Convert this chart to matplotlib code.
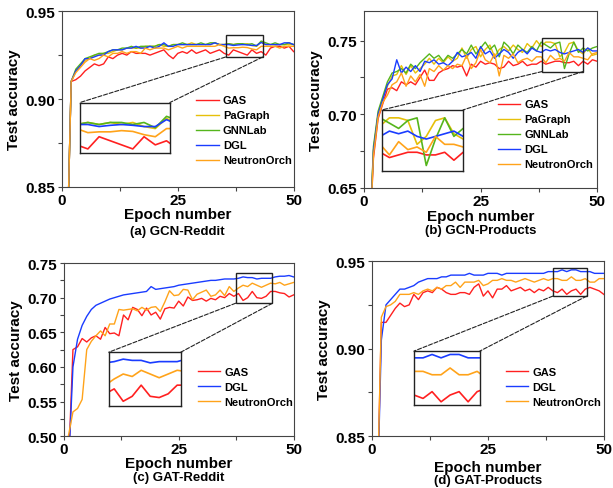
import matplotlib
matplotlib.use("Agg")
import matplotlib.pyplot as plt
from matplotlib.patches import Rectangle, ConnectionPatch

plt.rcParams['font.family'] = ['Liberation Sans', 'DejaVu Sans']
plt.rcParams['font.weight'] = 'bold'

epochs = list(range(1, 51))

# colours of the systems
colors = {'GAS': '#ff2020', 'PaGraph': '#e6c00a', 'GNNLab': '#55b51c',
          'DGL': '#1a3cff', 'NeutronOrch': '#ffa31a'}

# (a) GCN-Reddit
gas_a = [0.800, 0.910, 0.911, 0.913, 0.916, 0.918, 0.920, 0.919, 0.920, 0.924,
         0.923, 0.925, 0.926, 0.925, 0.927, 0.926, 0.926, 0.926, 0.925, 0.926,
         0.927, 0.928, 0.925, 0.923, 0.926, 0.927, 0.926, 0.928, 0.926, 0.927,
         0.928, 0.926, 0.927, 0.928, 0.926, 0.925, 0.928, 0.927, 0.926, 0.925,
         0.928, 0.926, 0.927, 0.925, 0.929, 0.930, 0.930, 0.929, 0.930, 0.927]
pagraph_a = [0.800, 0.910, 0.916, 0.919, 0.922, 0.923, 0.925, 0.925, 0.926, 0.926,
             0.927, 0.928, 0.928, 0.929, 0.929, 0.929, 0.929, 0.930, 0.930, 0.930,
             0.931, 0.930, 0.930, 0.931, 0.931, 0.931, 0.931, 0.932, 0.931, 0.931,
             0.931, 0.931, 0.932, 0.931, 0.931, 0.9315, 0.931, 0.9315, 0.931, 0.9315,
             0.9305, 0.930, 0.9325, 0.931, 0.931, 0.931, 0.931, 0.931, 0.931, 0.931]
gnnlab_a = [0.800, 0.910, 0.917, 0.920, 0.923, 0.924, 0.925, 0.926, 0.926, 0.927,
            0.928, 0.928, 0.929, 0.929, 0.930, 0.929, 0.930, 0.930, 0.930, 0.930,
            0.931, 0.931, 0.930, 0.931, 0.931, 0.932, 0.931, 0.931, 0.931, 0.932,
            0.931, 0.932, 0.932, 0.931, 0.931, 0.9315, 0.931, 0.9315, 0.9315, 0.931,
            0.9315, 0.9302, 0.933, 0.932, 0.931, 0.932, 0.931, 0.931, 0.932, 0.931]
dgl_a = [0.800, 0.910, 0.916, 0.919, 0.923, 0.923, 0.924, 0.925, 0.925, 0.927,
         0.928, 0.928, 0.928, 0.929, 0.929, 0.930, 0.929, 0.929, 0.930, 0.929,
         0.930, 0.932, 0.930, 0.930, 0.931, 0.931, 0.931, 0.931, 0.931, 0.931,
         0.931, 0.931, 0.932, 0.931, 0.931, 0.931, 0.9305, 0.9308, 0.931, 0.9308,
         0.9305, 0.9305, 0.9322, 0.931, 0.931, 0.931, 0.931, 0.932, 0.932, 0.931]
neutron_a = [0.800, 0.910, 0.915, 0.918, 0.921, 0.923, 0.922, 0.923, 0.925, 0.924,
             0.926, 0.926, 0.927, 0.926, 0.927, 0.927, 0.926, 0.929, 0.928, 0.929,
             0.929, 0.929, 0.928, 0.929, 0.930, 0.929, 0.930, 0.930, 0.930, 0.930,
             0.930, 0.930, 0.930, 0.931, 0.930, 0.929, 0.9292, 0.9292, 0.9295, 0.9293,
             0.9285, 0.928, 0.930, 0.930, 0.930, 0.930, 0.929, 0.930, 0.930, 0.930]

# (b) GCN-Products
gas_b = [0.600, 0.670, 0.697, 0.707, 0.717, 0.718, 0.716, 0.722, 0.720, 0.722,
         0.720, 0.725, 0.730, 0.723, 0.723, 0.728, 0.730, 0.731, 0.733, 0.732,
         0.733, 0.726, 0.734, 0.732, 0.736, 0.734, 0.735, 0.734, 0.731, 0.732,
         0.736, 0.733, 0.734, 0.736, 0.733, 0.734, 0.734, 0.736, 0.734, 0.735,
         0.736, 0.736, 0.735, 0.735, 0.736, 0.733, 0.736, 0.734, 0.737, 0.736]
pagraph_b = [0.600, 0.676, 0.700, 0.711, 0.719, 0.726, 0.727, 0.733, 0.727, 0.733,
             0.728, 0.731, 0.734, 0.738, 0.734, 0.738, 0.735, 0.739, 0.736, 0.738,
             0.745, 0.738, 0.744, 0.746, 0.739, 0.744, 0.747, 0.739, 0.744, 0.746,
             0.743, 0.747, 0.744, 0.742, 0.748, 0.745, 0.750, 0.746, 0.749, 0.749,
             0.748, 0.739, 0.742, 0.748, 0.749, 0.743, 0.741, 0.745, 0.740, 0.741]
gnnlab_b = [0.600, 0.678, 0.702, 0.712, 0.722, 0.728, 0.729, 0.731, 0.728, 0.734,
            0.731, 0.735, 0.738, 0.741, 0.738, 0.740, 0.736, 0.740, 0.738, 0.741,
            0.744, 0.741, 0.747, 0.741, 0.745, 0.749, 0.744, 0.747, 0.739, 0.749,
            0.746, 0.741, 0.747, 0.744, 0.742, 0.746, 0.743, 0.749, 0.747, 0.745,
            0.748, 0.749, 0.731, 0.741, 0.749, 0.742, 0.745, 0.743, 0.745, 0.746]
dgl_b = [0.600, 0.675, 0.700, 0.710, 0.720, 0.724, 0.737, 0.728, 0.732, 0.729,
         0.733, 0.729, 0.736, 0.735, 0.737, 0.734, 0.735, 0.733, 0.736, 0.742,
         0.739, 0.740, 0.742, 0.738, 0.746, 0.741, 0.743, 0.738, 0.741, 0.744,
         0.742, 0.738, 0.742, 0.744, 0.741, 0.745, 0.743, 0.742, 0.744, 0.743,
         0.744, 0.742, 0.741, 0.742, 0.743, 0.744, 0.742, 0.745, 0.743, 0.743]
neutron_b = [0.600, 0.672, 0.698, 0.708, 0.713, 0.720, 0.722, 0.728, 0.719, 0.726,
             0.722, 0.727, 0.719, 0.731, 0.729, 0.733, 0.730, 0.733, 0.731, 0.734,
             0.733, 0.740, 0.731, 0.735, 0.744, 0.737, 0.735, 0.741, 0.726, 0.740,
             0.738, 0.741, 0.735, 0.737, 0.738, 0.736, 0.739, 0.739, 0.735, 0.740,
             0.737, 0.738, 0.736, 0.742, 0.739, 0.739, 0.738, 0.737, 0.741, 0.742]

# (c) GAT-Reddit
gas_c = [0.450, 0.625, 0.629, 0.641, 0.636, 0.642, 0.645, 0.640, 0.657, 0.648,
         0.649, 0.645, 0.675, 0.668, 0.686, 0.683, 0.674, 0.685, 0.675, 0.679,
         0.669, 0.684, 0.686, 0.685, 0.695, 0.688, 0.701, 0.696, 0.697, 0.699,
         0.695, 0.699, 0.697, 0.702, 0.700, 0.706, 0.702, 0.706, 0.696, 0.700,
         0.709, 0.700, 0.699, 0.702, 0.709, 0.709, 0.707, 0.706, 0.701, 0.704]
dgl_c = [0.450, 0.600, 0.640, 0.660, 0.673, 0.683, 0.689, 0.692, 0.695, 0.698,
         0.700, 0.702, 0.704, 0.705, 0.706, 0.707, 0.708, 0.709, 0.716, 0.712,
         0.713, 0.714, 0.715, 0.716, 0.718, 0.719, 0.720, 0.721, 0.722, 0.723,
         0.724, 0.725, 0.725, 0.726, 0.727, 0.727, 0.727, 0.728, 0.730, 0.729,
         0.729, 0.727, 0.728, 0.728, 0.728, 0.730, 0.731, 0.731, 0.732, 0.730]
neutron_c = [0.500, 0.535, 0.540, 0.553, 0.625, 0.637, 0.645, 0.652, 0.645, 0.662,
             0.662, 0.683, 0.682, 0.683, 0.684, 0.681, 0.686, 0.682, 0.686, 0.687,
             0.680, 0.694, 0.710, 0.703, 0.704, 0.712, 0.711, 0.697, 0.705, 0.708,
             0.711, 0.702, 0.704, 0.711, 0.703, 0.716, 0.709, 0.714, 0.718, 0.716,
             0.721, 0.718, 0.715, 0.718, 0.721, 0.720, 0.722, 0.718, 0.720, 0.722]

# (d) GAT-Products
gas_d = [0.800, 0.915, 0.915, 0.919, 0.923, 0.926, 0.924, 0.925, 0.931, 0.928,
         0.932, 0.933, 0.932, 0.935, 0.934, 0.932, 0.931, 0.931, 0.932, 0.932,
         0.931, 0.935, 0.937, 0.930, 0.933, 0.929, 0.934, 0.934, 0.936, 0.933,
         0.934, 0.935, 0.933, 0.934, 0.932, 0.934, 0.933, 0.935, 0.933, 0.932,
         0.934, 0.931, 0.933, 0.934, 0.931, 0.934, 0.935, 0.934, 0.933, 0.931]
dgl_d = [0.800, 0.905, 0.925, 0.928, 0.931, 0.934, 0.934, 0.935, 0.936, 0.938,
         0.939, 0.940, 0.940, 0.940, 0.941, 0.941, 0.942, 0.942, 0.942, 0.942,
         0.943, 0.942, 0.942, 0.942, 0.943, 0.943, 0.943, 0.942, 0.943, 0.943,
         0.943, 0.943, 0.943, 0.943, 0.943, 0.943, 0.943, 0.944, 0.944, 0.944,
         0.945, 0.944, 0.945, 0.945, 0.944, 0.944, 0.944, 0.943, 0.943, 0.943]
neutron_d = [0.800, 0.918, 0.924, 0.925, 0.927, 0.931, 0.931, 0.931, 0.932, 0.931,
             0.933, 0.934, 0.933, 0.935, 0.934, 0.936, 0.936, 0.938, 0.935, 0.938,
             0.938, 0.938, 0.939, 0.936, 0.937, 0.939, 0.939, 0.940, 0.939, 0.939,
             0.938, 0.939, 0.940, 0.939, 0.938, 0.939, 0.940, 0.939, 0.940, 0.940,
             0.939, 0.939, 0.941, 0.939, 0.939, 0.940, 0.938, 0.938, 0.940, 0.940]

panels = [
    dict(pos=[0.101, 0.616, 0.378, 0.359],
         series=[('GAS', gas_a), ('PaGraph', pagraph_a), ('GNNLab', gnnlab_a),
                 ('DGL', dgl_a), ('NeutronOrch', neutron_a)],
         ylim=(0.85, 0.95), yticks=[0.85, 0.90, 0.95], yminor=[0.875, 0.925],
         zoom=(35.3, 43.3, 0.9239, 0.9364), inset=[0.078, 0.19, 0.388, 0.29],
         leg=(0.58, 0.52), caption='(a) GCN-Reddit', capy=(-0.157, -0.252)),
    dict(pos=[0.594, 0.614, 0.380, 0.361],
         series=[('GAS', gas_b), ('PaGraph', pagraph_b), ('GNNLab', gnnlab_b),
                 ('DGL', dgl_b), ('NeutronOrch', neutron_b)],
         ylim=(0.65, 0.77), yticks=[0.65, 0.70, 0.75], yminor=[0.675, 0.725],
         zoom=(38.2, 47.0, 0.729, 0.752), inset=[0.077, 0.096, 0.348, 0.345],
         leg=(0.575, 0.5), caption='(b) GCN-Products', capy=(-0.162, -0.238)),
    dict(pos=[0.104, 0.106, 0.375, 0.354],
         series=[('GAS', gas_c), ('DGL', dgl_c), ('NeutronOrch', neutron_c)],
         ylim=(0.50, 0.75), yticks=[0.50, 0.55, 0.60, 0.65, 0.70, 0.75],
         yminor=[0.525, 0.575, 0.625, 0.675, 0.725],
         zoom=(37.4, 45.4, 0.692, 0.7356), inset=[0.196, 0.173, 0.313, 0.312],
         leg=(0.583, 0.402), caption='(c) GAT-Reddit', capy=(-0.157, -0.234)),
    dict(pos=[0.607, 0.106, 0.378, 0.358],
         series=[('GAS', gas_d), ('DGL', dgl_d), ('NeutronOrch', neutron_d)],
         ylim=(0.85, 0.95), yticks=[0.85, 0.90, 0.95], yminor=[0.875, 0.925],
         zoom=(39.0, 46.3, 0.930, 0.946), inset=[0.181, 0.177, 0.284, 0.309],
         leg=(0.578, 0.397), caption='(d) GAT-Products', capy=(-0.174, -0.25)),
]

fig = plt.figure(figsize=(6.13, 4.89), dpi=100)

for p in panels:
    ax = fig.add_axes(p['pos'])
    lines = []
    for name, vals in p['series']:
        ln, = ax.plot(epochs, vals, color=colors[name], lw=1.0, label=name)
        lines.append(ln)
    ax.set_xlim(0, 50)
    ax.set_ylim(*p['ylim'])
    ax.set_xticks([0, 25, 50])
    ax.set_xticks([12.5, 37.5], minor=True)
    ax.set_yticks(p['yticks'])
    ax.set_yticks(p['yminor'], minor=True)
    ax.set_yticklabels(['%.2f' % v for v in p['yticks']])
    ax.tick_params(which='both', direction='out', length=3, width=0.8,
                   color='#444444', labelsize=11, pad=2)
    ax.tick_params(axis='x', pad=1.5)
    for s in ax.spines.values():
        s.set_color('#444444')
        s.set_linewidth(0.8)
    ax.set_ylabel('Test accuracy', fontsize=11, fontweight='bold', labelpad=3)
    ax.text(0.5, p['capy'][0], 'Epoch number', transform=ax.transAxes,
            ha='center', va='center', fontsize=11, fontweight='bold')
    ax.text(0.5, p['capy'][1], p['caption'], transform=ax.transAxes,
            ha='center', va='center', fontsize=9.5, fontweight='bold')

    ax.legend(handles=lines, loc='upper left', bbox_to_anchor=p['leg'],
              frameon=False, borderaxespad=0, borderpad=0, handlelength=2.0,
              handletextpad=0.4, labelspacing=0.45,
              prop={'weight': 'bold', 'size': 8})

    # zoomed region
    x0, x1, y0, y1 = p['zoom']
    ax.add_patch(Rectangle((x0, y0), x1 - x0, y1 - y0, fill=False,
                           ec='#222222', lw=1.0, zorder=5))
    ins = ax.inset_axes(p['inset'])
    for name, vals in p['series']:
        ins.plot(epochs, vals, color=colors[name], lw=1.2)
    ins.set_xlim(x0, x1)
    ins.set_ylim(y0, y1)
    ins.set_xticks([])
    ins.set_yticks([])
    for s in ins.spines.values():
        s.set_color('#222222')
        s.set_linewidth(1.0)
    for xa, xb in [(x0, 0), (x1, 1)]:
        con = ConnectionPatch(xyA=(xa, y0), coordsA=ax.transData,
                              xyB=(xb, 1), coordsB=ins.transAxes,
                              ls='--', color='#222222', lw=0.8)
        fig.add_artist(con)

fig.savefig('out.png', dpi=100)
